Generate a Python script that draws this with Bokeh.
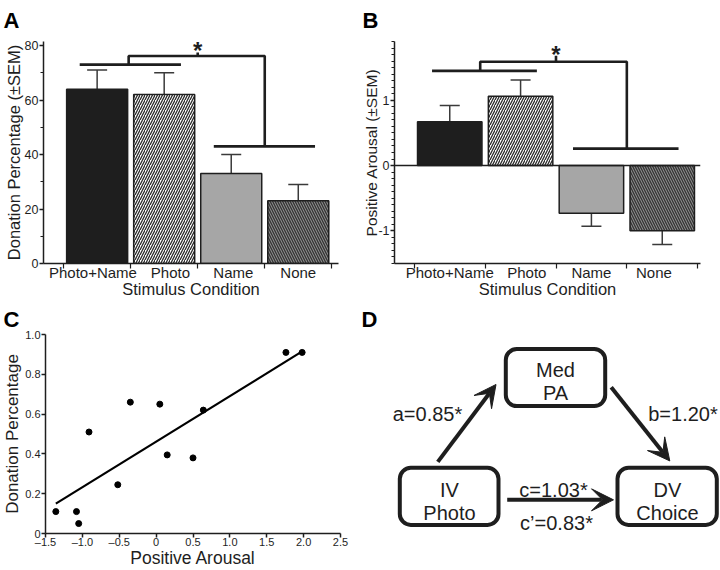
import numpy as np
from bokeh.plotting import figure
from bokeh.layouts import row, column
from bokeh.models import (Range1d, FixedTicker, Whisker, TeeHead, ColumnDataSource,
                          Span, Label, Arrow, VeeHead, BoxAnnotation)
from bokeh.embed import file_html
from bokeh.resources import INLINE
from bokeh.core.properties import value

FONT = "Liberation Sans"
INK = "#1e1e1e"
NB = "\u00a0"

# ---------------- data ----------------
conditions = ["Photo+Name", "Photo", "Name", "None"]
donation_mean = [64, 62, 33, 23]
donation_sem = [7, 8, 7, 6]
arousal_mean = [0.67, 1.06, -0.73, -1.0]
arousal_sem = [0.25, 0.25, 0.20, 0.21]

scatter_arousal = [-1.36, -1.08, -1.05, -0.91, -0.52, -0.35, 0.05, 0.15, 0.50, 0.64, 1.76, 1.98]
scatter_donation = [0.11, 0.11, 0.05, 0.51, 0.245, 0.66, 0.65, 0.395, 0.38, 0.62, 0.91, 0.91]
fit_arousal = [-1.36, 1.98]
fit_donation = [0.15, 0.915]

# significance brackets (data units of each panel)
sigA_group1 = ([-0.26, 1.25], [73, 73])
sigA_group2 = ([1.74, 3.25], [43, 43])
sigA_bracket = ([0.47, 0.47, 2.5, 2.5], [73, 76.2, 76.2, 43])
sigA_tick = ([1.5, 1.5], [76.2, 77.5])
sigA_star = (1.5, 78.2)

sigB_group1 = ([-0.25, 1.23], [1.45, 1.45])
sigB_group2 = ([1.74, 3.23], [0.26, 0.26])
sigB_bracket = ([0.43, 0.43, 2.5, 2.5], [1.45, 1.59, 1.59, 0.26])
sigB_tick = ([1.5, 1.5], [1.59, 1.68])
sigB_star = (1.5, 1.70)

# mediation diagram (panel D), page-pixel positions
med_boxes = [(505.3, 604.7, 348.7, 406.3), (399.3, 498, 468.7, 526.3), (617, 716.3, 468.7, 526.3)]
box_lines = [("Med", 555, 370), ("PA", 555, 393), ("IV", 449, 491), ("Photo", 449, 514),
             ("DV", 667, 491), ("Choice", 667, 514)]
path_labels = ["a=0.85*", "b=1.20*", "c=1.03*", "c\u2019=0.83*"]
path_label_pos = [(427, 414.5), (682.5, 414.5), (553, 491), (556, 524.5)]
arrows_D = [(437.3, 462.7, 495.5, 384.5), (610.7, 387.3, 669.3, 461.7), (506.7, 501, 613, 501)]

bar_fill = ["#1e1e1e", "#ffffff", "#a6a6a6", "#8e8e8e"]
bar_hatch = [" ", "right_diagonal_line", " ", "left_diagonal_line"]
bar_hatch_color = ["#1e1e1e", "#2a2a2a", "#a6a6a6", "#333333"]
xpos = [0, 1, 2, 3]


def set_letter(p, letter, offset, standoff):
    p.title.text = letter
    p.title.align = "left"
    p.title.offset = offset
    p.title.standoff = standoff
    p.title.vertical_align = "top"
    p.title.text_font = FONT
    p.title.text_font_size = "22px"
    p.title.text_font_style = "bold"
    p.title.text_color = "black"


def base_fig(w, h, xr, yr, left, right, top, bottom, letter, letter_offset, letter_standoff):
    p = figure(width=w, height=h, x_range=xr, y_range=yr, output_backend="svg",
               toolbar_location=None, min_border_left=left, min_border_right=right,
               min_border_top=top, min_border_bottom=bottom)
    p.grid.visible = False
    p.outline_line_color = None
    p.background_fill_color = "white"
    set_letter(p, letter, letter_offset, letter_standoff)
    for ax in p.axis:
        ax.axis_line_width = 1.5
        ax.axis_line_color = INK
        ax.major_tick_line_color = INK
        ax.major_tick_line_width = 1.5
        ax.minor_tick_line_color = INK
        ax.minor_tick_line_width = 1.2
        ax.major_tick_in = 0
        ax.minor_tick_in = 0
        ax.major_label_text_font = FONT
        ax.major_label_text_color = INK
        ax.axis_label_text_font = FONT
        ax.axis_label_text_font_style = "normal"
        ax.axis_label_text_color = INK
    return p


def bar_panel(p, means, sems, brackets, star, cat_labels, yticks, yminor):
    src = ColumnDataSource(dict(x=xpos, top=means, fill=bar_fill, hatch=bar_hatch,
                                hcol=bar_hatch_color,
                                upper=[m + s for m, s in zip(means, sems)],
                                lower=[m - s for m, s in zip(means, sems)]))
    p.vbar(x="x", top="top", bottom=0, width=0.91, source=src, fill_color="fill",
           line_color=INK, line_width=1.5, hatch_pattern="hatch", hatch_color="hcol",
           hatch_scale=5, hatch_weight=1.3)
    wh = Whisker(source=src, base="x", upper="upper", lower="lower", dimension="height",
                 line_color="#3a3a3a", line_width=1.5,
                 upper_head=TeeHead(size=20, line_color="#3a3a3a", line_width=1.5),
                 lower_head=TeeHead(size=20, line_color="#3a3a3a", line_width=1.5))
    p.add_layout(wh)
    for xs, ys in brackets:
        p.line(xs, ys, line_color=INK, line_width=2.6)
    p.add_layout(Label(x=star[0], y=star[1], text="*", text_align="center",
                       text_baseline="alphabetic", text_font=FONT,
                       text_font_style="bold", text_font_size="24px", text_color=INK))
    p.xaxis.ticker = FixedTicker(ticks=xpos, minor_ticks=[-0.5, 0.5, 1.5, 2.5, 3.5])
    p.xaxis.major_label_overrides = {i: c for i, c in zip(xpos, cat_labels)}
    p.xaxis.major_tick_out = 0
    p.xaxis.minor_tick_out = 5
    p.xaxis.major_label_text_font_size = "15px"
    p.xaxis.major_label_standoff = -5
    p.xaxis.axis_label = "Stimulus Condition"
    p.xaxis.axis_label_text_font_size = "16.5px"
    p.xaxis.axis_label_standoff = -4
    p.yaxis.ticker = FixedTicker(ticks=yticks, minor_ticks=yminor)
    p.yaxis.major_tick_out = 4
    p.yaxis.minor_tick_out = 3
    p.yaxis.major_label_text_font_size = "12.5px"
    p.yaxis.major_label_standoff = 1


# ---------------- panel A ----------------
pA = base_fig(360, 300, Range1d(-0.8, 3.6), Range1d(0, 81.5), 43, 22, 40, 37, "A", -40, 14)
bar_panel(pA, donation_mean, donation_sem,
          [sigA_group1, sigA_group2, sigA_bracket, sigA_tick], sigA_star,
          [conditions[0] + NB * 2, NB * 3 + conditions[1], NB + conditions[2], conditions[3]],
          [0, 20, 40, 60, 80], [10, 30, 50, 70])
pA.yaxis.axis_label = "Donation Percentage (\u00b1SEM)"
pA.yaxis.axis_label_text_font_size = "16.5px"
pA.yaxis.axis_label_standoff = -1

# ---------------- panel B ----------------
pB = base_fig(360, 300, Range1d(-0.78, 3.54), Range1d(-1.5, 1.9), 33, 20, 39, 37, "B", -32, 14)
bar_panel(pB, arousal_mean, arousal_sem,
          [sigB_group1, sigB_group2, sigB_bracket, sigB_tick], sigB_star,
          [conditions[0], NB * 3 + conditions[1], conditions[2], conditions[3] + NB * 4],
          [-1, 0, 1], [round(v, 1) for v in np.arange(-1.5, 1.95, 0.1)])
pB.yaxis.major_label_overrides = {-1: "-1", 0: "0", 1: "1"}
pB.yaxis.axis_label = "Positive Arousal (\u00b1SEM)"
pB.yaxis.axis_label_text_font_size = "15.5px"
pB.yaxis.axis_label_standoff = -5
pB.add_layout(Span(location=0, dimension="width", line_color=INK, line_width=1.5))

# ---------------- panel C ----------------
pC = base_fig(360, 270, Range1d(-1.5, 2.5), Range1d(0, 1.0), 45, 20, 34, 35, "C", -42, 2)
pC.line(fit_arousal, fit_donation, line_color="black", line_width=2.2)
pC.scatter(scatter_arousal, scatter_donation, size=6, color="black")
xt = [-1.5, -1.0, -0.5, 0, 0.5, 1.0, 1.5, 2.0, 2.5]
pC.xaxis.ticker = FixedTicker(ticks=xt)
pC.xaxis.major_label_overrides = {-1.5: "\u20131.5", -1.0: "\u20131.0", -0.5: "\u20130.5",
                                  0: "0", 0.5: "0.5", 1.0: "1.0", 1.5: "1.5",
                                  2.0: "2.0", 2.5: "2.5"}
yt = [0, 0.2, 0.4, 0.6, 0.8, 1.0]
pC.yaxis.ticker = FixedTicker(ticks=yt)
pC.yaxis.major_label_overrides = {0: "0", 0.2: "0.2", 0.4: "0.4", 0.6: "0.6",
                                  0.8: "0.8", 1.0: "1.0"}
for ax in pC.axis:
    ax.major_tick_out = 4
    ax.major_label_text_font_size = "11px"
pC.xaxis.major_label_standoff = -2
pC.yaxis.major_label_standoff = 1
pC.xaxis.axis_label = "Positive Arousal"
pC.xaxis.axis_label_text_font_size = "17.5px"
pC.xaxis.axis_label_standoff = -3
pC.yaxis.axis_label = "Donation Percentage"
pC.yaxis.axis_label_text_font_size = "17px"
pC.yaxis.axis_label_standoff = 0

# ---------------- panel D ----------------
# frame shares the vertical borders of panel C (row alignment); ranges map page pixels
pD = figure(width=360, height=270, x_range=Range1d(360, 720), y_range=Range1d(535, 334),
            output_backend="svg", toolbar_location=None, x_axis_location=None,
            y_axis_location=None, min_border_left=0, min_border_right=0,
            min_border_top=34, min_border_bottom=35)
pD.grid.visible = False
pD.outline_line_color = None
set_letter(pD, "D", 1, 2)
for (l, r, t, b) in med_boxes:
    pD.add_layout(BoxAnnotation(left=l, right=r, top=t, bottom=b, fill_color="white",
                                fill_alpha=1, line_color=INK, line_width=4,
                                line_alpha=1, border_radius=11, level="underlay"))
pD.text([b[1] for b in box_lines], [b[2] for b in box_lines], text=[b[0] for b in box_lines],
        text_align="center", text_baseline="alphabetic", text_font=value(FONT),
        text_font_size="20px", text_color=INK)
for (x0, y0, x1, y1) in arrows_D:
    pD.add_layout(Arrow(x_start=x0, y_start=y0, x_end=x1, y_end=y1, line_width=4,
                        line_color=INK,
                        end=VeeHead(size=22, fill_color=INK, line_color=INK, line_width=1)))
pD.text([p[0] for p in path_label_pos], [p[1] for p in path_label_pos], text=path_labels,
        text_align="center", text_baseline="alphabetic", text_font=value(FONT),
        text_font_size="20px", text_color=INK)

layout = column(row(pA, pB), row(pC, pD))
open("out.html", "w").write(file_html(layout, INLINE))
